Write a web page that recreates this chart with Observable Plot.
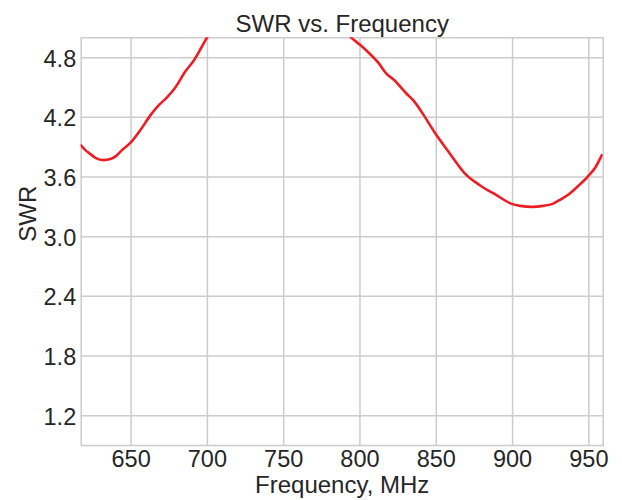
<!DOCTYPE html>
<html>
<head>
<meta charset="utf-8">
<script src="https://cdn.jsdelivr.net/npm/d3@7"></script>
<script src="https://cdn.jsdelivr.net/npm/@observablehq/plot@0.6"></script>
<style>
  html, body { margin: 0; padding: 0; background: #fff; }
</style>
</head>
<body>
<div id="chart"></div>
<script>
const title = "SWR vs. Frequency";
const xLabel = "Frequency, MHz";
const yLabel = "SWR";

const xTicks = [650, 700, 750, 800, 850, 900, 950];
const yTicks = [1.2, 1.8, 2.4, 3.0, 3.6, 4.2, 4.8];

const freq = [617, 620, 623.4, 627, 631.7, 636.5, 640, 644, 650, 656, 662.6, 668, 673.5, 679, 685.5, 691, 696, 699.7, 702,
  750, 790, 794.4, 800, 806.4, 812, 817.3, 822, 830.4, 835, 841, 849.3, 858.7, 868.5, 878.3, 889.2, 899.4, 905, 913, 920,
  926.2, 931, 937.1, 943, 949, 954, 958.5];
const swr = [3.92, 3.87, 3.83, 3.79, 3.77, 3.78, 3.81, 3.87, 3.95, 4.07, 4.22, 4.32, 4.40, 4.50, 4.66, 4.77, 4.90, 5.0, 5.05,
  5.8, 5.07, 5.0, 4.93, 4.84, 4.75, 4.64, 4.58, 4.44, 4.37, 4.24, 4.04, 3.84, 3.64, 3.52, 3.42, 3.33, 3.31, 3.30, 3.31,
  3.33, 3.37, 3.43, 3.51, 3.60, 3.69, 3.82];

const data = freq.map((f, i) => ({f, s: swr[i]}));

const textColor = "#262626";
const gridColor = "#cccccc";

const chart = Plot.plot({
  width: 622,
  height: 500,
  marginLeft: 80.7,
  marginRight: 19.3,
  marginTop: 37.3,
  marginBottom: 55,
  style: {fontFamily: "'Liberation Sans', Arial, sans-serif", color: textColor, background: "#fff", overflow: "visible"},
  x: {domain: [617.3, 959.4]},
  y: {domain: [0.9, 5.0]},
  marks: [
    Plot.gridX(xTicks, {stroke: gridColor, strokeOpacity: 1, strokeWidth: 1.5}),
    Plot.gridY(yTicks, {stroke: gridColor, strokeOpacity: 1, strokeWidth: 1.5}),
    Plot.frame({stroke: gridColor, strokeWidth: 1.5}),
    Plot.axisX(xTicks, {tickSize: 0, tickPadding: 5, fontSize: 23.5, label: null, fill: textColor}),
    Plot.axisY(yTicks, {tickSize: 0, tickPadding: 5, fontSize: 23.5, dy: 1.5, label: null, fill: textColor, tickFormat: d3.format(".1f")}),
    Plot.line(data, {x: "f", y: "s", stroke: "#ee1d23", strokeWidth: 2.6, clip: true, curve: "monotone-x"}),
    Plot.text([title], {frameAnchor: "top", lineAnchor: "middle", dy: -13.6, fontSize: 24, fill: textColor}),
    Plot.text([xLabel], {frameAnchor: "bottom", lineAnchor: "middle", dy: 40, fontSize: 24, fill: textColor}),
    Plot.text([yLabel], {frameAnchor: "left", lineAnchor: "middle", dx: -53, rotate: -90, fontSize: 24, fill: textColor})
  ]
});
document.getElementById("chart").appendChild(chart);
</script>
</body>
</html>
